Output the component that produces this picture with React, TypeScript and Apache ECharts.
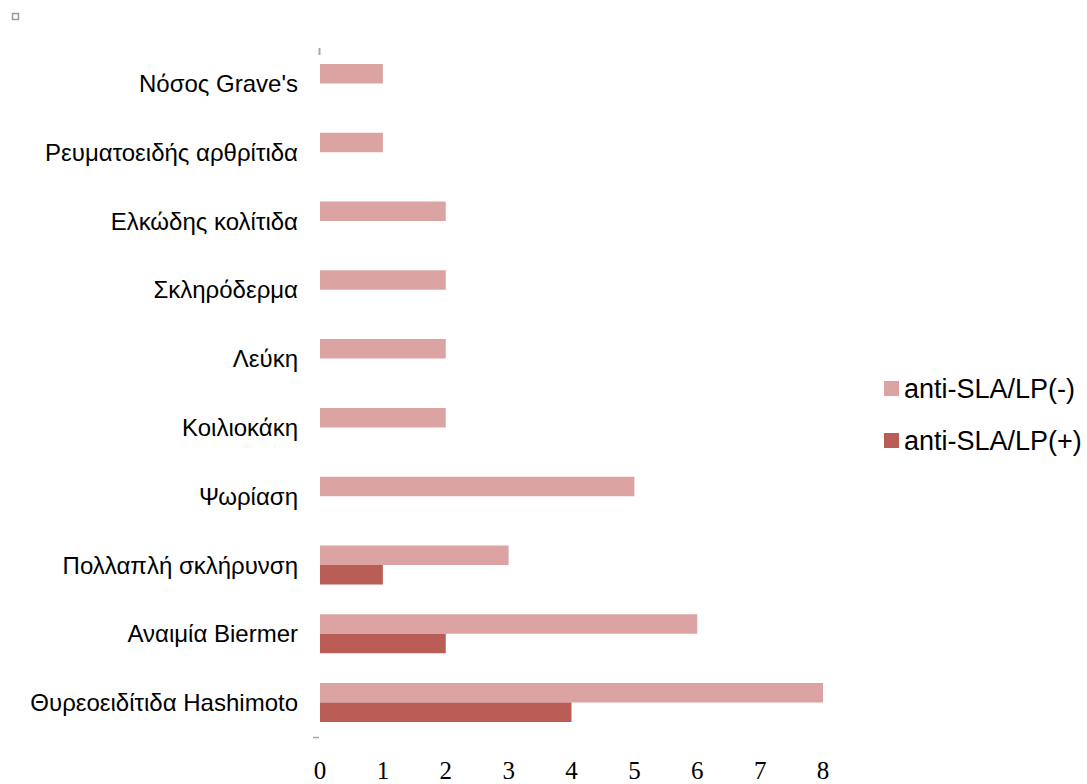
import React, { useEffect, useRef } from "react";
import * as echarts from "echarts";

const categories = [
  "Θυρεοειδίτιδα Hashimoto",
  "Αναιμία Biermer",
  "Πολλαπλή σκλήρυνση",
  "Ψωρίαση",
  "Κοιλιοκάκη",
  "Λεύκη",
  "Σκληρόδερμα",
  "Ελκώδης κολίτιδα",
  "Ρευματοειδής αρθρίτιδα",
  "Νόσος Grave's",
];
const negativeName = "anti-SLA/LP(-)";
const positiveName = "anti-SLA/LP(+)";
const negativeValues = [8, 6, 3, 5, 2, 2, 2, 2, 1, 1];
const positiveValues = [4, 2, 1, 0, 0, 0, 0, 0, 0, 0];
const xMin = 0;
const xMax = 8;
const xInterval = 1;

export default function App() {
  const ref = useRef<HTMLDivElement>(null);
  useEffect(() => {
    if (!ref.current) return;
    const chart = echarts.init(ref.current, undefined, { renderer: "svg" });
    chart.setOption({
      animation: false,
      backgroundColor: "#ffffff",
      grid: { left: 320, right: 264, top: 49, bottom: 47, containLabel: false },
      legend: {
        orient: "vertical",
        left: 879,
        top: 370,
        data: [negativeName, positiveName],
        itemWidth: 15,
        itemHeight: 15,
        itemGap: 25,
        icon: "rect",
        textStyle: {
          fontFamily: "Liberation Sans, Arial, sans-serif",
          fontSize: 27,
          lineHeight: 27,
          color: "#000000",
        },
      },
      xAxis: {
        type: "value",
        min: xMin,
        max: xMax,
        interval: xInterval,
        axisLine: { show: false },
        axisTick: { show: false },
        splitLine: { show: false },
        axisLabel: {
          margin: 21,
          fontFamily: "Liberation Serif, serif",
          fontSize: 25,
          lineHeight: 25,
          color: "#000000",
        },
      },
      yAxis: {
        type: "category",
        data: categories,
        axisLine: { show: false },
        axisTick: { show: false },
        axisLabel: {
          margin: 22,
          fontFamily: "Liberation Sans, Arial, sans-serif",
          fontSize: 24,
          color: "#000000",
        },
      },
      series: [
        {
          name: negativeName,
          type: "bar",
          data: negativeValues,
          barWidth: 19.5,
          barGap: "0%",
          itemStyle: { color: "#DBA4A3" },
        },
        {
          name: positiveName,
          type: "bar",
          data: positiveValues,
          barWidth: 19.5,
          barGap: "0%",
          itemStyle: { color: "#BA5D56" },
        },
      ],
      graphic: [
        {
          type: "rect",
          shape: { x: 12.5, y: 13.5, width: 6, height: 6 },
          style: { fill: "#ffffff", stroke: "#9a9a9a", lineWidth: 1.5 },
        },
        {
          type: "line",
          shape: { x1: 319.5, y1: 48, x2: 319.5, y2: 55 },
          style: { stroke: "#a8a8a8", lineWidth: 2 },
        },
        {
          type: "line",
          shape: { x1: 313, y1: 737.5, x2: 319, y2: 737.5 },
          style: { stroke: "#a8a8a8", lineWidth: 1.5 },
        },
      ],
    });
    return () => chart.dispose();
  }, []);
  return (
    <div
      ref={ref}
      style={{ position: "fixed", left: 0, top: 0, width: 1087, height: 784 }}
    />
  );
}
